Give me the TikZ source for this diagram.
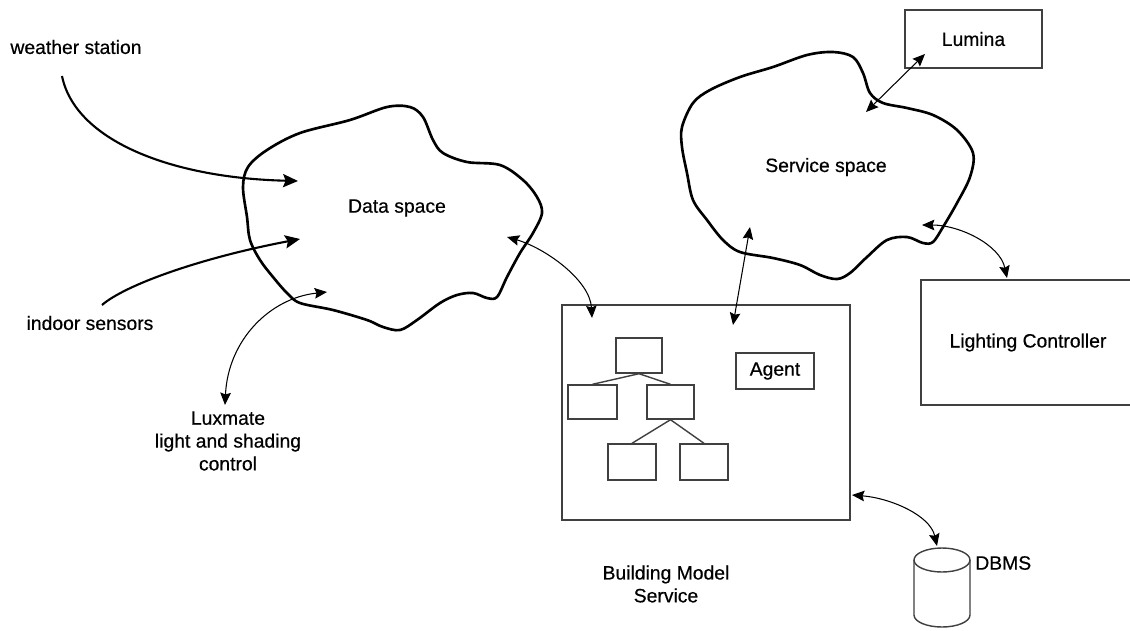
\documentclass[tikz,border=0pt]{standalone}
\usepackage{fontspec}
\setmainfont{Liberation Sans}
\newfontfamily\labelfont{Liberation Sans}[FakeBold=0.5]
\usetikzlibrary{arrows.meta,fit}

\begin{document}
\begin{tikzpicture}[x=0.02cm,y=-0.02cm,
  txt/.style={font=\labelfont\fontsize{11}{13}\selectfont, inner sep=0pt, align=center},
  box/.style={draw=black!75, line width=0.8pt, inner sep=0pt},
  outline/.style={line width=1.5pt, line join=round},
  feed/.style={line width=1.2pt, -{Stealth[length=8.5pt,width=7.5pt,inset=1.5pt]}},
  link/.style={line width=0.6pt, {Stealth[length=7pt,width=6pt,inset=1pt]}-{Stealth[length=7pt,width=6pt,inset=1pt]}},
  treeline/.style={line width=0.8pt, draw=black!75},
  ]
\fill[white] (0,0) rectangle (1130,630);
\useasboundingbox (0,0) rectangle (1130,630);

% ---- data space ----
\draw[outline] plot[smooth cycle, tension=0.55] coordinates {
  (243,187) (248,167) (267,150) (300,133) (350,120) (387,107) (410,107)
  (423,117) (433,140) (443,153) (467,162) (500,165) (523,180) (537,197)
  (542,213) (533,233) (520,253) (507,277) (497,297) (487,298) (473,293)
  (457,295) (440,303) (417,320) (400,330) (383,327) (367,320) (333,310)
  (300,303) (287,293) (273,277) (260,260) (250,240) (247,217)};
\node[txt] (data) at (397,208) {Data space};

% ---- service space ----
\draw[outline] plot[smooth cycle, tension=0.55] coordinates {
  (833,52) (853,57) (863,73) (870,93) (883,103) (907,108) (933,115)
  (957,130) (973,153) (970,177) (957,203) (943,227) (933,242) (923,243)
  (907,237) (887,240) (867,257) (850,273) (837,279) (820,275) (800,265)
  (773,258) (740,252) (723,240) (707,220) (693,200) (687,173) (682,147)
  (682,127) (693,103) (710,90) (740,77) (773,67) (807,55)};
\node[txt] (service) at (826,167) {Service space};

% ---- external labels ----
\node[txt] (weather) at (76,47) {weather station};
\node[txt] (indoor) at (90,323) {indoor sensors};
\node[txt] (luxmate) at (228,441) {Luxmate\\light and shading\\control};
\node[txt] (bmslabel) at (666,584) {Building Model\\Service};
\node[txt, anchor=west] (dbmslabel) at (975,563) {DBMS};

% ---- boxes ----
\node[box, fit={(905,10) (1042,68)}] (lumina) {};
\node[txt] (luminatext) at (lumina.center) {Lumina};
\node[box, fit={(921,280) (1135,405)}] (lighting) {};
\node[txt] (lightingtext) at (lighting.center) {Lighting Controller};
\node[box, fit={(562,305) (850,520)}] (bms) {};
\node[box, fit={(736,353) (814,389)}] (agent) {};
\node[txt] (agenttext) at (agent.center) {Agent};

% class tree inside the building model
\node[box, fit={(616,338) (662,373)}] (t0) {};
\node[box, fit={(568,385) (617,419)}] (t1) {};
\node[box, fit={(647,385) (694,419)}] (t2) {};
\node[box, fit={(608,444) (656,480)}] (t3) {};
\node[box, fit={(680,444) (728,480)}] (t4) {};
\draw[treeline] (t0.south) -- (t1.north);
\draw[treeline] (t0.south) -- (t2.north);
\draw[treeline] (t2.south) -- (t3.north);
\draw[treeline] (t2.south) -- (t4.north);

% ---- database ----
\draw[line width=0.8pt, draw=black!75]
  (914,560) -- (914,615) arc[start angle=180, end angle=360, x radius=28, y radius=-12]
  -- (970,560);
\draw[line width=0.8pt, draw=black!75] (942,560) ellipse[x radius=28, y radius=12];
\coordinate (dbtop) at (937,546);

% ---- connector end points ----
\coordinate (wsfrom) at (62,76);
\coordinate (wsto) at (298,181);
\coordinate (isfrom) at (102,305);
\coordinate (isto) at (300,239);
\coordinate (lxin) at (327,292);
\coordinate (lxout) at (225,405);
\coordinate (dsout) at (507,237);
\coordinate (bmsin) at (592,318);
\coordinate (ssout) at (750,227);
\coordinate (bmsin2) at (733,325);
\coordinate (ssup) at (866,112);
\coordinate (lumin) at (925,54);
\coordinate (ssright) at (922,225);
\coordinate (lcin) at (1007,278);
\coordinate (bmsright) at (852,495);

% ---- connectors ----
\draw[feed] (wsfrom) .. controls (75,140) and (170,178) .. (wsto);
\draw[feed] (isfrom) .. controls (125,285) and (200,258) .. (isto);
\draw[link] (lxin) .. controls (270,298) and (228,340) .. (lxout);
\draw[link] (dsout) .. controls (545,248) and (590,280) .. (bmsin);
\draw[link] (ssout) -- (bmsin2);
\draw[link] (ssup) -- (lumin);
\draw[link] (ssright) .. controls (960,225) and (1000,245) .. (lcin);
\draw[link] (bmsright) .. controls (890,498) and (930,515) .. (dbtop);
\end{tikzpicture}
\end{document}
